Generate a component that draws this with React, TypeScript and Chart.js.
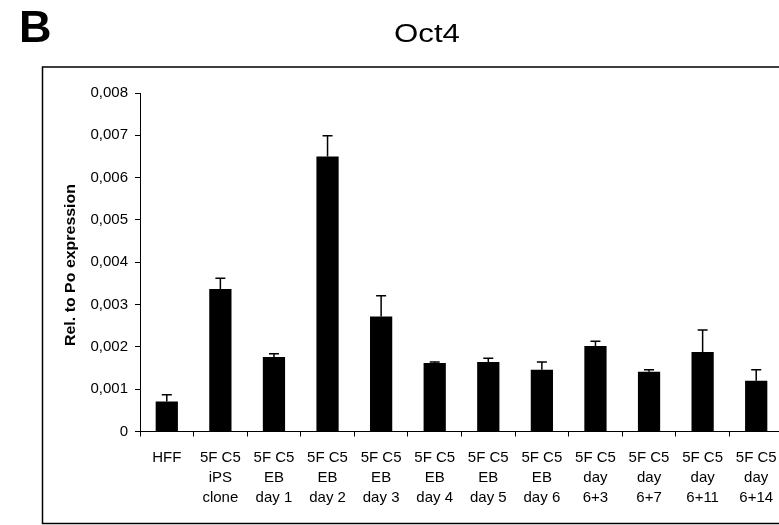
import { useEffect, useRef } from "react";
import { Chart, registerables } from "chart.js";

Chart.register(...registerables);

const categories: string[][] = [
  ["HFF"],
  ["5F C5", "iPS", "clone"],
  ["5F C5", "EB", "day 1"],
  ["5F C5", "EB", "day 2"],
  ["5F C5", "EB", "day 3"],
  ["5F C5", "EB", "day 4"],
  ["5F C5", "EB", "day 5"],
  ["5F C5", "EB", "day 6"],
  ["5F C5", "day", "6+3"],
  ["5F C5", "day", "6+7"],
  ["5F C5", "day", "6+11"],
  ["5F C5", "day", "6+14"],
];

const means = [
  0.00071, 0.00337, 0.00176, 0.0065, 0.00272, 0.00162, 0.00164, 0.00146,
  0.00202, 0.00141, 0.00188, 0.0012,
];

const errors = [
  0.00016, 0.00025, 0.00008, 0.00049, 0.00049, 0.00002, 0.00009, 0.00018,
  0.00011, 0.00005, 0.00052, 0.00026,
];

const yMin = 0;
const yMax = 0.008;
const yStep = 0.001;

const panelLetter = "B";
const chartTitle = "Oct4";
const yAxisTitle = "Rel. to Po expression";

const SANS = "'Liberation Sans', Arial, sans-serif";

const decorPlugin = {
  id: "decor",
  beforeDraw(chart: any) {
    const ctx = chart.ctx as CanvasRenderingContext2D;
    ctx.save();
    ctx.fillStyle = "#ffffff";
    ctx.fillRect(0, 0, chart.width, chart.height);
    ctx.strokeStyle = "#000000";
    ctx.lineWidth = 1.5;
    ctx.strokeRect(42.5, 67, 770, 456.5);
    ctx.fillStyle = "#000000";
    ctx.font = `bold 45px ${SANS}`;
    ctx.textAlign = "left";
    ctx.textBaseline = "alphabetic";
    ctx.fillText(panelLetter, 19, 42);
    ctx.restore();

    ctx.save();
    ctx.fillStyle = "#000000";
    ctx.font = `26px ${SANS}`;
    ctx.textAlign = "center";
    ctx.textBaseline = "alphabetic";
    ctx.translate(427, 41.5);
    ctx.scale(1.2, 1);
    ctx.fillText(chartTitle, 0, 0);
    ctx.restore();

    ctx.save();
    ctx.fillStyle = "#000000";
    ctx.font = `bold 14px ${SANS}`;
    ctx.textAlign = "center";
    ctx.textBaseline = "middle";
    const w = ctx.measureText(yAxisTitle).width;
    ctx.translate(71, 265);
    ctx.rotate(-Math.PI / 2);
    ctx.scale(162 / w, 1);
    ctx.fillText(yAxisTitle, 0, 0);
    ctx.restore();
  },
};

const errorBarPlugin = {
  id: "errorBars",
  afterDatasetsDraw(chart: any) {
    const ctx = chart.ctx as CanvasRenderingContext2D;
    const meta = chart.getDatasetMeta(0);
    const yScale = chart.scales.y;
    ctx.save();
    ctx.strokeStyle = "#000000";
    ctx.lineWidth = 1.5;
    meta.data.forEach((bar: any, i: number) => {
      const x = bar.x;
      const y0 = yScale.getPixelForValue(means[i]);
      const y1 = yScale.getPixelForValue(means[i] + errors[i]);
      ctx.beginPath();
      ctx.moveTo(x, y0);
      ctx.lineTo(x, y1);
      ctx.moveTo(x - 5, y1);
      ctx.lineTo(x + 5, y1);
      ctx.stroke();
    });
    ctx.restore();
  },
};

export default function App() {
  const ref = useRef<HTMLCanvasElement | null>(null);

  useEffect(() => {
    if (!ref.current) return;
    const chart = new Chart(ref.current, {
      type: "bar",
      data: {
        labels: categories,
        datasets: [
          {
            data: means,
            backgroundColor: "#000000",
            borderWidth: 0,
            barPercentage: 0.415,
            categoryPercentage: 1,
          },
        ],
      },
      options: {
        responsive: false,
        animation: false,
        layout: { padding: { top: 93, right: 17, bottom: 0, left: 0 } },
        plugins: {
          legend: { display: false },
          title: { display: false },
          tooltip: { enabled: false },
        },
        scales: {
          x: {
            offset: true,
            grid: {
              offset: true,
              drawOnChartArea: false,
              drawTicks: true,
              tickLength: 5,
              color: "#000000",
              lineWidth: 1,
            },
            border: { display: true, color: "#000000", width: 1 },
            ticks: {
              color: "#000000",
              font: { family: SANS, size: 15, lineHeight: 1.33 },
              padding: 11,
              maxRotation: 0,
              autoSkip: false,
            },
            afterFit(scale: any) {
              scale.height = 93.5;
              scale.paddingLeft = 0;
              scale.paddingRight = 0;
            },
          },
          y: {
            min: yMin,
            max: yMax,
            grid: {
              drawOnChartArea: false,
              drawTicks: true,
              tickLength: 5,
              color: "#000000",
              lineWidth: 1,
            },
            border: { display: true, color: "#000000", width: 1 },
            ticks: {
              stepSize: yStep,
              color: "#000000",
              font: { family: SANS, size: 15 },
              padding: 7,
              callback: (v: any) =>
                Number(v) === 0 ? "0" : Number(v).toFixed(3).replace(".", ","),
            },
            afterFit(scale: any) {
              scale.width = 140;
              scale.paddingTop = 0;
              scale.paddingBottom = 0;
            },
          },
        },
      },
      plugins: [decorPlugin, errorBarPlugin],
    });
    return () => chart.destroy();
  }, []);

  return (
    <div
      style={{
        position: "fixed",
        left: 0,
        top: 0,
        width: 779,
        height: 525,
        overflow: "hidden",
        background: "#fff",
      }}
    >
      <canvas
        ref={ref}
        width={800}
        height={525}
        style={{ width: 800, height: 525, display: "block" }}
      />
    </div>
  );
}
